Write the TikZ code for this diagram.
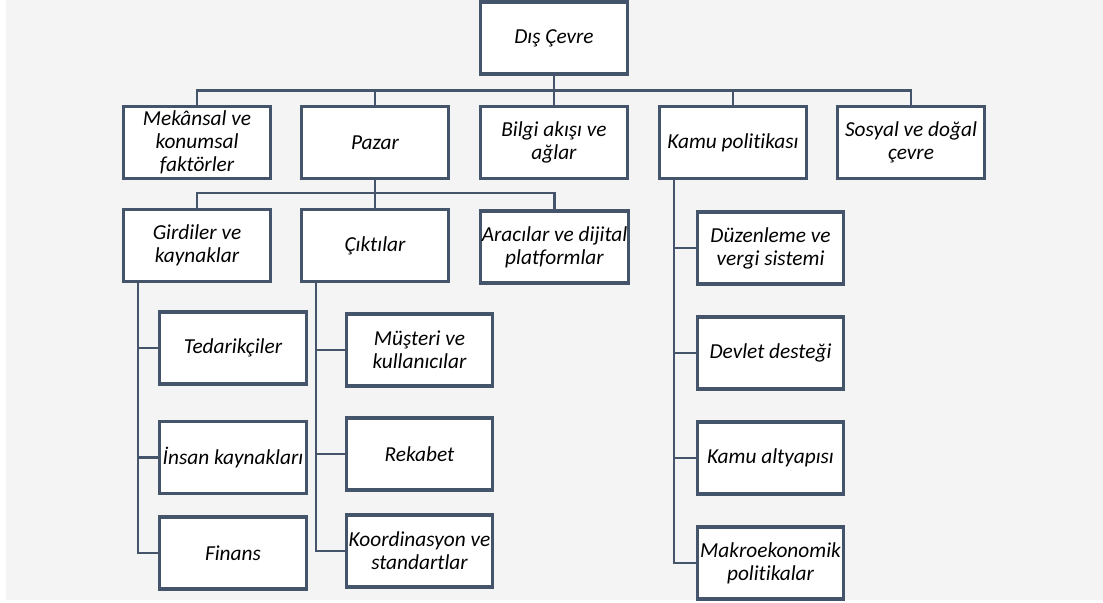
\documentclass[tikz,border=0pt]{standalone}
\usepackage{fontspec}
\setmainfont{Carlito}[Ligatures=NoCommon]
\usetikzlibrary{positioning}

\definecolor{boxc}{HTML}{44546A}
\definecolor{bgc}{HTML}{F4F4F4}

\tikzset{
  every box/.style={draw=boxc, line width=2.4pt, fill=white, align=center,
    minimum width=110pt, minimum height=54pt, inner sep=1pt,
    font=\fontsize{16}{17.2}\selectfont\itshape},
  link/.style={draw=boxc, line width=1.7pt}
}

\begin{document}
\begin{tikzpicture}[x=0.75pt, y=-0.75pt]

\useasboundingbox (0,0) rectangle (1103,603);
\fill [bgc] (6,0) rectangle (1103,600);

\node [every box] (main) at (554,38) {Dış Çevre};

\foreach \x/\l [count=\i] in {197/{Mekânsal ve\\konumsal\\faktörler}, 375/Pazar,
    554/{Bilgi akışı ve\\ağlar}, 733/Kamu politikası, 911/{Sosyal ve doğal\\çevre}}
  \node [every box] (branch-\i) at (\x,142.5) {\l};

\foreach \x/\y/\l [count=\i] in {197/245.5/{Girdiler ve\\kaynaklar}, 375/245.5/Çıktılar,
    554.5/247/{Aracılar ve dijital\\platformlar}}
  \node [every box] (market-\i) at (\x,\y) {\l};

\foreach \y/\l [count=\i] in {348/Tedarikçiler, 457.5/İnsan kaynakları, 553/Finans}
  \node [every box] (input-\i) at (233,\y) {\l};

\foreach \y/\l [count=\i] in {350/{Müşteri ve\\kullanıcılar}, 454/Rekabet,
    551/{Koordinasyon ve\\standartlar}}
  \node [every box] (output-\i) at (419.5,\y) {\l};

\foreach \y/\l [count=\i] in {248/{Düzenleme ve\\vergi sistemi}, 353/Devlet desteği,
    458/Kamu altyapısı, 563/{Makroekonomik\\politikalar}}
  \node [every box] (policy-\i) at (770.5,\y) {\l};

\foreach \i in {1,...,5}
  \draw [link] (main.south) -- ++(0,15) -| (branch-\i.north);

\foreach \i in {1,...,3}
  \draw [link] (branch-2.south) -- ++(0,13) -| (market-\i.north);

\foreach \i in {1,...,3}
  \draw [link] (market-1.south west) ++(16,0) |- (input-\i.west);

\foreach \i in {1,...,3}
  \draw [link] (market-2.south west) ++(16,0) |- (output-\i.west);

\foreach \i in {1,...,4}
  \draw [link] (branch-4.south west) ++(16,0) |- (policy-\i.west);

\end{tikzpicture}
\end{document}
